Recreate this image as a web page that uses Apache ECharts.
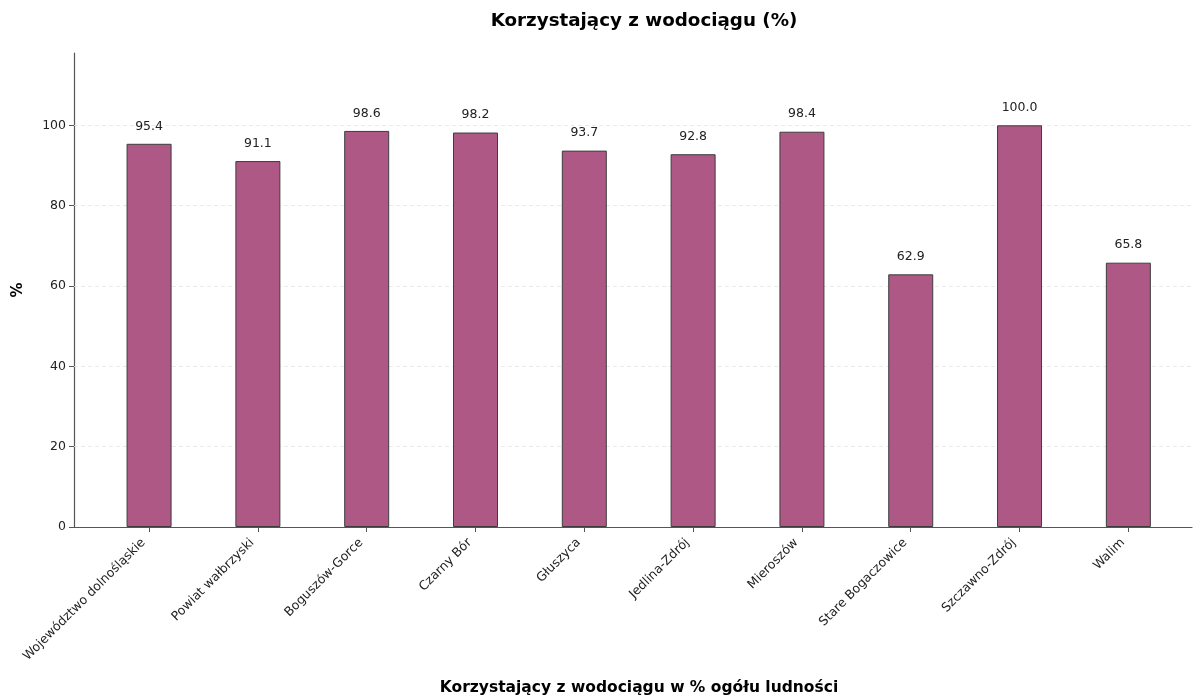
<!DOCTYPE html>
<html>
<head>
<meta charset="utf-8">
<script src="https://cdn.jsdelivr.net/npm/echarts@6/dist/echarts.min.js"></script>
<style>
  html, body { margin: 0; padding: 0; background: #fff; }
  #chartData { width: 1193px; height: 696px; }
</style>
</head>
<body>
<div id="chartData"></div>
<script>
// dane z wykresu
var categories = ['Województwo dolnośląskie', 'Powiat wałbrzyski', 'Boguszów-Gorce', 'Czarny Bór',
    'Głuszyca', 'Jedlina-Zdrój', 'Mieroszów', 'Stare Bogaczowice', 'Szczawno-Zdrój', 'Walim'];
var values = [95.4, 91.1, 98.6, 98.2, 93.7, 92.8, 98.4, 62.9, 100.0, 65.8];
var yTicks = [0, 20, 40, 60, 80, 100];

var font = 'DejaVu Sans';
var barColor = '#ae5885';

var myChart = echarts.init(document.getElementById('chartData'));

var catIdx = categories.map(function (c, i) { return i; });
var barData = values.map(function (v, i) { return [i, v]; });

var option = {
    animation: false,
    title: {
        text: 'Korzystający z wodociągu (%)',
        left: 639,
        textAlign: 'center',
        top: 7,
        textStyle: {
            fontFamily: font,
            fontSize: 18.3,
            fontWeight: 'bold',
            color: '#000'
        }
    },
    grid: {
        left: 74,
        right: 1,
        top: 53,
        bottom: 169,
        outerBoundsMode: 'none'
    },
    xAxis: {
        type: 'value',
        min: -0.69,
        max: 9.585,
        name: 'Korzystający z wodociągu w % ogółu ludności',
        nameLocation: 'middle',
        nameGap: 153,
        nameTextStyle: {
            fontFamily: font,
            fontSize: 15.5,
            fontWeight: 'bold',
            color: '#000',
            padding: [0, 0, 0, 12]
        },
        axisLine: {show: true, onZero: false, lineStyle: {color: '#555', width: 1.2}},
        axisTick: {show: true, customValues: catIdx, length: 5, lineStyle: {color: '#555'}},
        axisLabel: {
            customValues: catIdx,
            rotate: 45,
            margin: 8,
            padding: [0, 8, 0, 0],
            fontFamily: font,
            fontSize: 12.5,
            color: '#222',
            formatter: function (v) {
                return categories[Math.round(v)];
            }
        },
        splitLine: {show: false}
    },
    yAxis: {
        type: 'value',
        min: 0,
        max: 118,
        name: '%',
        nameLocation: 'middle',
        nameGap: 48,
        nameTextStyle: {
            fontFamily: font,
            fontSize: 15,
            fontWeight: 'bold',
            color: '#000'
        },
        axisLine: {show: true, onZero: false, lineStyle: {color: '#555', width: 1.2}},
        axisTick: {show: true, customValues: yTicks, length: 5, lineStyle: {color: '#555'}},
        axisLabel: {
            customValues: yTicks,
            margin: 8,
            fontFamily: font,
            fontSize: 12.5,
            color: '#222'
        },
        splitLine: {show: false}
    },
    series: [{
        // siatka pozioma (pod słupkami)
        name: 'siatka',
        type: 'line',
        data: [],
        z: 1,
        markLine: {
            silent: true,
            z: 1,
            symbol: 'none',
            label: {show: false},
            lineStyle: {color: '#e4e4e4', type: [4, 3], width: 0.8},
            data: yTicks.slice(1).map(function (t) { return {yAxis: t}; })
        }
    }, {
        name: 'Korzystający z wodociągu',
        type: 'bar',
        barWidth: 45,
        data: barData,
        itemStyle: {
            color: barColor,
            borderColor: '#3d3d3d',
            borderWidth: 1
        },
        label: {
            show: true,
            position: 'top',
            distance: 11,
            fontFamily: font,
            fontSize: 12.5,
            color: '#222',
            formatter: function (p) {
                return p.value[1].toFixed(1);
            }
        },
        z: 3
    }]
};

myChart.setOption(option);
</script>
</body>
</html>
